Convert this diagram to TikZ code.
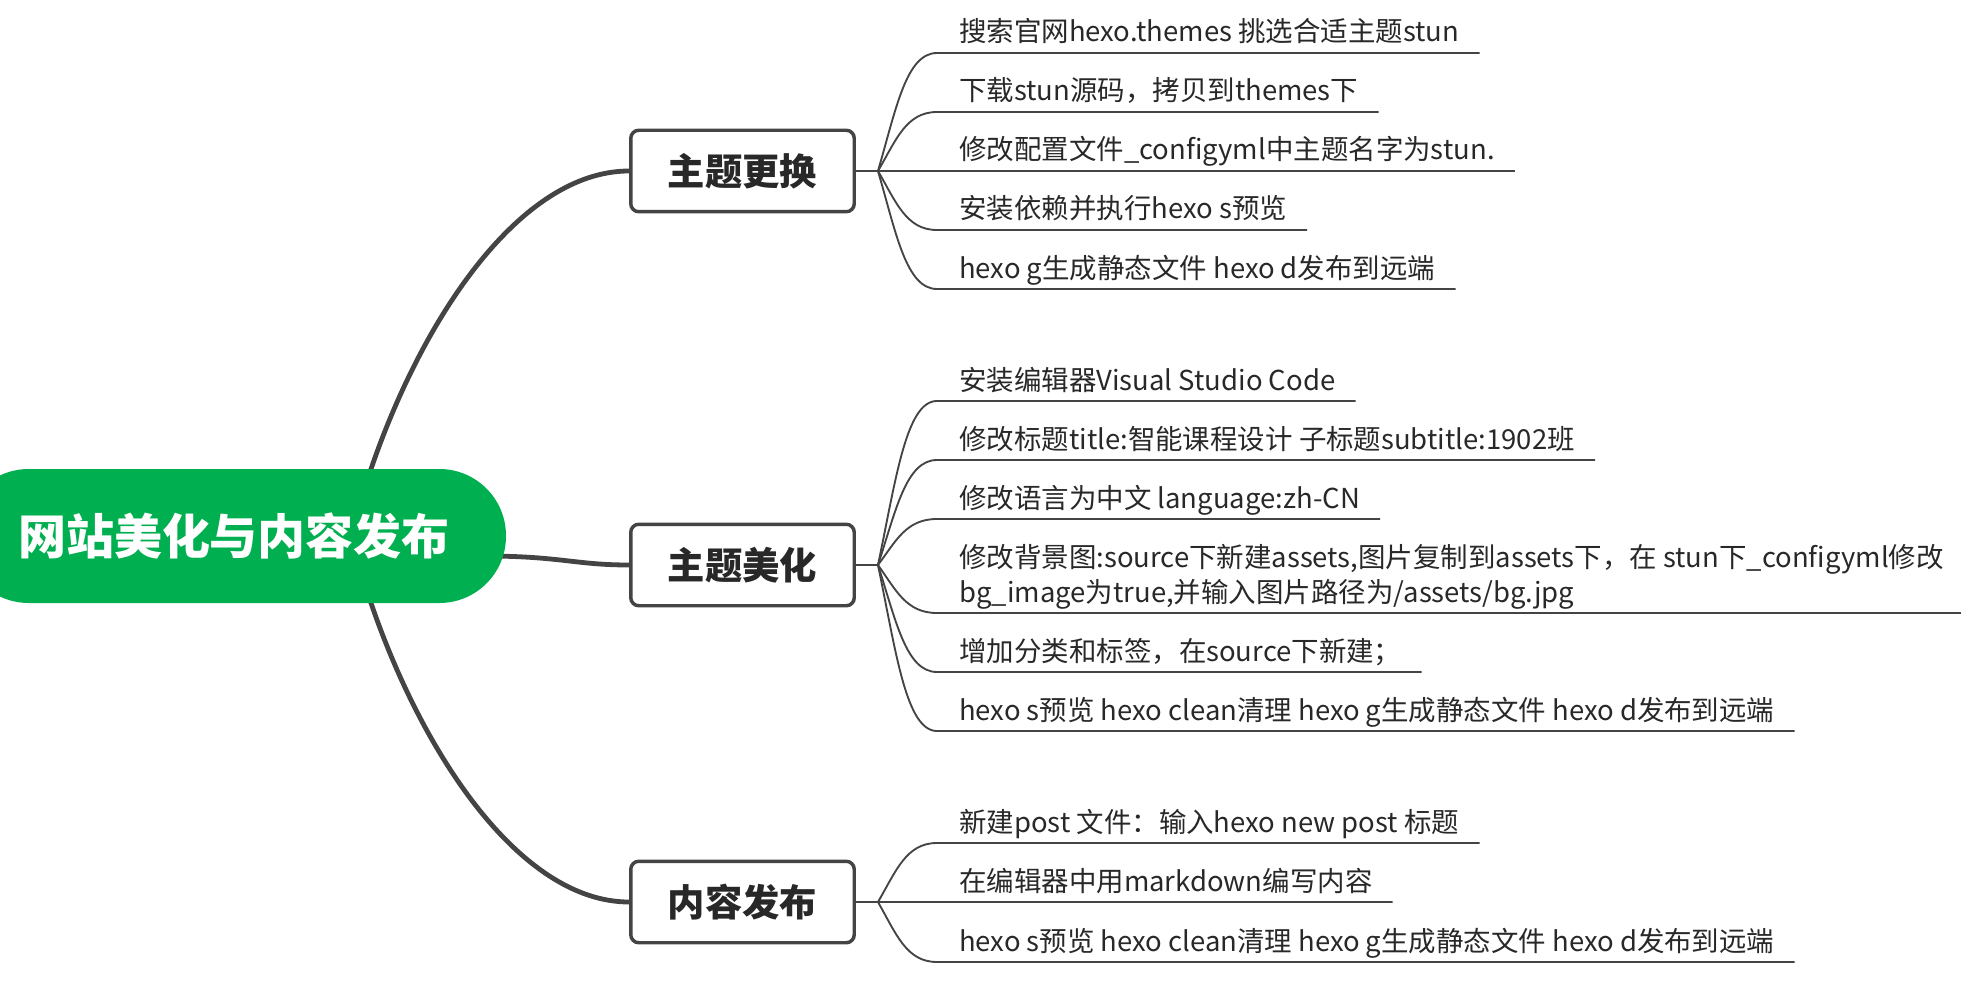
\documentclass[tikz,border=0pt]{standalone}
\usepackage{fontspec}
\setmainfont{Noto Sans CJK SC}
\usetikzlibrary{calc}
\pgfdeclarelayer{background}
\pgfsetlayers{background,main}
\definecolor{rootgreen}{RGB}{0,175,80}
\definecolor{linegray}{RGB}{68,68,68}
\definecolor{textgray}{RGB}{40,40,40}
\tikzset{
  rootnode/.style={fill=rootgreen, text=white, font=\fontsize{36}{40}\selectfont\bfseries,
    rounded corners=50pt, minimum width=408pt, minimum height=100.5pt, inner sep=0pt},
  branchbox/.style={draw=linegray, line width=2.6pt, fill=white, rounded corners=6pt,
    minimum width=167.6pt, minimum height=61.1pt, text=textgray,
    font=\fontsize{28}{30}\selectfont\bfseries, inner sep=0pt},
  leaf/.style={anchor=base west, inner sep=0pt, text=textgray,
    font=\fontsize{20.6}{26.25}\selectfont},
  trunk/.style={draw=linegray, line width=3.6pt},
  twig/.style={draw=linegray, line width=1.4pt},
  leafline/.style={draw=linegray, line width=1.4pt},
}
% #1 fan coordinate, #2 leaf node name, #3 distance from base line to underline
\newcommand\leafconn[3]{%
  \coordinate (#2u) at ($(#2.base west)+(-22,#3)$);
  \draw[leafline] (#1) .. controls ($(#1)!0.52!(#1|-#2u)+(18,0)$) and ($(#1|-#2u)+(28,0)$) .. (#2u)
    -- ($(#2.base east)+(20,#3)$);}
\begin{document}
\begin{tikzpicture}[x=0.75pt,y=-0.75pt]
\useasboundingbox (0,0) rectangle (1961,988);

% root and branches
\node[rootnode] (root) at (234,536) {网站美化与内容发布};
\node[branchbox] (b1) at (742.5,171) {主题更换};
\node[branchbox] (b2) at (742.5,565) {主题美化};
\node[branchbox] (b3) at (742.5,902) {内容发布};

\coordinate (rt) at ($(root.center)+(134,-58)$);
\coordinate (rm) at ($(root.center)+(250,20)$);
\coordinate (rb) at ($(root.center)+(134,58)$);
\begin{pgfonlayer}{background}
  \draw[trunk] (rt) .. controls (420,320) and (520,171) .. (b1.west);
  \draw[trunk] (rm) .. controls (560,556) and (575,565) .. (b2.west);
  \draw[trunk] (rb) .. controls (420,752) and (520,902) .. (b3.west);
\end{pgfonlayer}

\coordinate (f1) at ($(b1.east)+(22,0)$);
\coordinate (f2) at ($(b2.east)+(22,0)$);
\coordinate (f3) at ($(b3.east)+(22,0)$);
\draw[twig] (b1.east) -- (f1);
\draw[twig] (b2.east) -- (f2);
\draw[twig] (b3.east) -- (f3);

% branch 1 leaves
\node[leaf] (a1) at (959,42) {搜索官网hexo.themes 挑选合适主题stun};
\node[leaf] (a2) at (959,101) {下载stun源码，拷贝到themes下};
\node[leaf] (a3) at (959,160) {修改配置文件\_configyml中主题名字为stun.};
\node[leaf] (a4) at (959,219) {安装依赖并执行hexo s预览};
\node[leaf] (a5) at (959,278) {hexo g生成静态文件 hexo d发布到远端};
\leafconn{f1}{a1}{11}
\leafconn{f1}{a2}{11}
\leafconn{f1}{a3}{11}
\leafconn{f1}{a4}{11}
\leafconn{f1}{a5}{11}

% branch 2 leaves
\node[leaf] (c1) at (959,390) {安装编辑器Visual Studio Code};
\node[leaf] (c2) at (959,449) {修改标题title:智能课程设计 子标题subtitle:1902班};
\node[leaf] (c3) at (959,508) {修改语言为中文 language:zh-CN};
\node[leaf] (c4) at (959,567) {\begin{tabular}[t]{@{}l@{}}修改背景图:source下新建assets,图片复制到assets下，在 stun下\_configyml修改\\bg\_image为true,并输入图片路径为/assets/bg.jpg\end{tabular}};
\node[leaf] (c5) at (959,661) {增加分类和标签，在source下新建；};
\node[leaf] (c6) at (959,720) {hexo s预览 hexo clean清理 hexo g生成静态文件 hexo d发布到远端};
\leafconn{f2}{c1}{11}
\leafconn{f2}{c2}{11}
\leafconn{f2}{c3}{11}
\leafconn{f2}{c4}{46}
\leafconn{f2}{c5}{11}
\leafconn{f2}{c6}{11}

% branch 3 leaves
\node[leaf] (d1) at (959,832) {新建post 文件：输入hexo new post 标题};
\node[leaf] (d2) at (959,891) {在编辑器中用markdown编写内容};
\node[leaf] (d3) at (959,951) {hexo s预览 hexo clean清理 hexo g生成静态文件 hexo d发布到远端};
\leafconn{f3}{d1}{11}
\leafconn{f3}{d2}{11}
\leafconn{f3}{d3}{11}
\end{tikzpicture}
\end{document}
